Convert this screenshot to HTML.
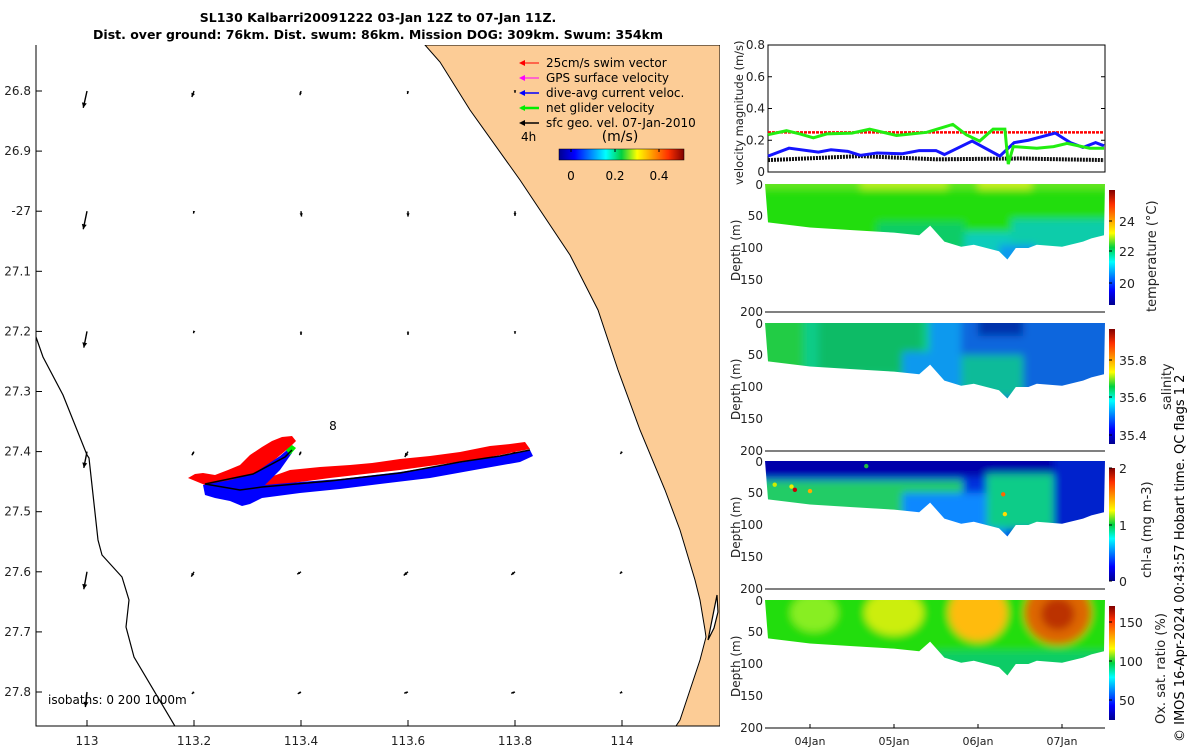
<!DOCTYPE html>
<html><head><meta charset="utf-8"><style>
html,body{margin:0;padding:0;background:#fff}
svg{display:block;font-family:"DejaVu Sans","Liberation Sans",sans-serif}
</style></head><body>
<svg id="fig" width="1200" height="750" viewBox="0 0 1200 750" xmlns="http://www.w3.org/2000/svg">
<defs>
<linearGradient id="jet" x1="0" y1="1" x2="0" y2="0">
<stop offset="0" stop-color="#00008f"/><stop offset="0.125" stop-color="#0000ff"/><stop offset="0.375" stop-color="#00ffff"/><stop offset="0.5" stop-color="#00d040"/><stop offset="0.625" stop-color="#ffff00"/><stop offset="0.875" stop-color="#ff3000"/><stop offset="1" stop-color="#800000"/>
</linearGradient>
<linearGradient id="jeth" x1="0" y1="0" x2="1" y2="0">
<stop offset="0" stop-color="#00008f"/><stop offset="0.125" stop-color="#0000ff"/><stop offset="0.375" stop-color="#00ffff"/><stop offset="0.5" stop-color="#00d040"/><stop offset="0.625" stop-color="#ffff00"/><stop offset="0.875" stop-color="#ff3000"/><stop offset="1" stop-color="#800000"/>
</linearGradient>
<filter id="blur" x="-50%" y="-50%" width="200%" height="200%"><feGaussianBlur stdDeviation="4"/></filter>
<clipPath id="mapclip"><rect x="36" y="45" width="684" height="681"/></clipPath>
</defs>
<text x="378" y="22" text-anchor="middle" font-weight="bold" font-size="12.5">SL130 Kalbarri20091222 03-Jan 12Z to 07-Jan 11Z.</text>
<text x="378" y="39" text-anchor="middle" font-weight="bold" font-size="12.5">Dist. over ground: 76km. Dist. swum: 86km. Mission DOG: 309km. Swum: 354km</text>
<g id="map"></g>
<g id="right"></g>
<text transform="translate(1184,742) rotate(-90)" font-size="13">© IMOS 16-Apr-2024 00:43:57 Hobart time. QC flags 1  2</text>
</svg>
<script>
// ---------- data ----------
const lonTicks=[113,113.2,113.4,113.6,113.8,114];
const latTicks=[26.8,26.9,27,27.1,27.2,27.3,27.4,27.5,27.6,27.7,27.8];
const latLabels=["26.8","26.9","-27","27.1","27.2","27.3","27.4","27.5","27.6","27.7","27.8"];
const arrowLats=[26.8,27.0,27.2,27.4,27.6,27.8];
const arrowU=[[-0.007,-0.004,-0.002,-0.001,0,0],[-0.007,-0.001,0.001,0,0,0],[-0.006,-0.001,0,0,0,0],[-0.006,-0.004,-0.003,-0.006,-0.006,-0.003],[-0.006,-0.005,-0.007,-0.008,-0.007,-0.004],[-0.003,-0.004,-0.006,-0.007,-0.007,-0.004]];
const arrowV=[[0.028,0.01,0.007,0.005,0.003,0],[0.03,0.004,0.009,0.009,0.008,0],[0.027,0.003,0.006,0.006,0.004,0],[0.027,0.006,0.006,0.009,0.005,0.004],[0.029,0.008,0.004,0.006,0.005,0.003],[0.025,0.003,0.003,0.002,0.002,0.002]];
const timeDays=[0,0.22,0.38,0.54,0.7,1.0,1.21,1.53,1.89,2.2,2.36,2.52,2.68,2.82,2.86,2.92,3.2,3.4,3.56,3.83,4.0];
const netVel=[0.235,0.26,0.24,0.215,0.24,0.245,0.27,0.23,0.25,0.30,0.235,0.195,0.27,0.27,0.05,0.16,0.15,0.16,0.18,0.15,0.15];
const daTime=[0,0.25,0.6,0.75,0.95,1.1,1.3,1.6,1.8,2.0,2.1,2.43,2.76,2.93,3.1,3.42,3.6,3.75,3.9,4.0];
const daVel=[0.1,0.15,0.125,0.14,0.13,0.105,0.12,0.115,0.135,0.135,0.11,0.195,0.1,0.185,0.2,0.245,0.185,0.155,0.185,0.165];
const geoTime=[0,1.1,2.0,3.0,4.0];
const geoVel=[0.075,0.1,0.08,0.085,0.075];
const swimVel=[0.25,0.25];
const bottomTime=[0,0.5,1,1.5,1.8,1.93,2.1,2.3,2.45,2.6,2.75,2.85,2.95,3.1,3.2,3.5,3.75,3.85,4];
const bottomDepth=[60,68,72,76,80,65,90,98,95,100,105,118,100,100,95,98,90,85,80];
const dayTicks=["04Jan","05Jan","06Jan","07Jan"];
const dayTickTimes=[0.5,1.5,2.5,3.5];
const depthTicks=[0,50,100,150,200];
const velTicks=[0,0.2,0.4,0.6,0.8];

const NS="http://www.w3.org/2000/svg";
function mk(parent,tag,attrs,txt){const e=document.createElementNS(NS,tag);for(const k in attrs)e.setAttribute(k,attrs[k]);if(txt!==undefined)e.textContent=txt;parent.appendChild(e);return e;}
const map=document.getElementById('map'), R=document.getElementById('right');

// ---------- map ----------
const lonX=l=>87+(l-113)*535, latY=l=>91+(l-26.8)*601;
const mg=mk(map,'g',{'clip-path':'url(#mapclip)'});
let land=mk(mg,'path',{d:"M425,45 L440,62 L470,110 L520,180 L570,255 L598,310 L618,370 L640,430 L665,490 L680,530 L695,580 L700,600 L705,630 L706,637 L700,660 L690,690 L680,720 L676,726 L720,726 L720,45 Z",fill:"#fccc96",stroke:"#000","stroke-width":1});


let est=mk(mg,'path',{d:"M708,640 L712,620 L715,605 L717,595 L718,612 L714,628 Z",fill:"#fff",stroke:"#000","stroke-width":1.2});


let iso=mk(mg,'polyline',{points:"20,300 36,337 43,357 63,395 87,455 89,458 98,540 102,555 122,577 129,600 126,627 134,657 195,760",fill:"none",stroke:"#000","stroke-width":1.2});


// arrows
arrowLats.forEach((la,i)=>lonTicks.forEach((lo,j)=>{
  const x=lonX(lo),y=latY(la),x2=x+arrowU[i][j]*535, y2=y+arrowV[i][j]*601;
  const dx=x2-x,dy=y2-y,L=Math.hypot(dx,dy);
  if(L<0.5){return;}
  const a=mk(mg,'g',{});
  
  
  mk(a,'line',{x1:x,y1:y,x2:x2,y2:y2,stroke:'#000','stroke-width':1.4});
  const ux=dx/L,uy=dy/L,h=Math.min(5,Math.max(2.5,L*0.6));
  mk(a,'polygon',{points:`${x2},${y2} ${x2-ux*h-uy*h*0.5},${y2-uy*h+ux*h*0.5} ${x2-ux*h+uy*h*0.5},${y2-uy*h-ux*h*0.5}`,fill:'#000'});
}));
// glider track
let red=mk(mg,'polygon',{points:"188,478 195,474 203,473 215,475 228,470 240,465 250,455 262,447 272,441 282,437 292,436 296,441 290,447 272,462 262,480 290,470 320,467 350,465 372,463 400,459 430,456 460,452 490,446 510,444 525,442 530,449 480,459 400,470 330,478 262,487 205,485",fill:"#ff0000"});


let blue=mk(mg,'polygon',{points:"203,485 230,480 253,474 280,456 287,450 292,453 280,470 265,485 300,482 340,479 400,472 470,461 530,450 533,456 520,462 480,469 430,478 380,484 340,489 300,493 262,498 250,504 242,506 230,501 215,498 205,495",fill:"#0000ff"});


let grn=mk(mg,'polygon',{points:"286,450 292,445 296,448 290,455",fill:"#00ee00"});


let trk=mk(mg,'polyline',{points:"292,450 285,457 253,474 205,484 240,490 262,487 330,481 400,473 460,462 500,456 530,450",fill:"none",stroke:"#000","stroke-width":1.5});


let eight=mk(map,'text',{x:333,y:430,'font-size':12,'text-anchor':'middle'},'8');


// axes
let ax=mk(map,'path',{d:"M36,45 V726 H720",fill:"none",stroke:"#000","stroke-width":1});


lonTicks.forEach(l=>{const x=lonX(l);mk(map,'line',{x1:x,y1:726,x2:x,y2:720,stroke:'#000'});
  const t=mk(map,'text',{x:x,y:745,'font-size':12,'text-anchor':'middle',fill:'#222'},String(l));
  
  });
latTicks.forEach((l,i)=>{const y=latY(l);mk(map,'line',{x1:36,y1:y,x2:42,y2:y,stroke:'#000'});
  const t=mk(map,'text',{x:31,y:y+4,'font-size':12,'text-anchor':'end',fill:'#222'},latLabels[i]);
  
  });
let isoT=mk(map,'text',{x:48,y:704,'font-size':12},'isobaths: 0   200  1000m');


// legend
const legItems=[["25cm/s swim vector","#ff0000",1],["GPS surface velocity","#ff00ff",1],["dive-avg current veloc.","#0000ff",1.5],["net glider velocity","#00ee00",2.5],["sfc geo. vel. 07-Jan-2010","#000",1.5]];
const leg=mk(map,'g',{});


legItems.forEach((it,i)=>{const y=63+i*15;const g=mk(leg,'g',{});
  
  
  mk(g,'line',{x1:521,y1:y,x2:539,y2:y,stroke:it[1],'stroke-width':it[2]});
  mk(g,'polygon',{points:`519,${y} 525,${y-3} 525,${y+3}`,fill:it[1]});
  mk(g,'text',{x:546,y:y+4,'font-size':12},it[0]);});
mk(leg,'text',{x:521,y:141,'font-size':12},'4h');
mk(leg,'text',{x:620,y:141,'font-size':14,'text-anchor':'middle'},'(m/s)');
let lcb=mk(leg,'rect',{x:559,y:149,width:125,height:11,fill:'url(#jeth)',stroke:'#000','stroke-width':0.5});


[["0",571],["0.2",615],["0.4",659]].forEach(t=>{mk(leg,'line',{x1:t[1],y1:149,x2:t[1],y2:152,stroke:'#000'});mk(leg,'text',{x:t[1],y:180,'font-size':12,'text-anchor':'middle'},t[0]);});

// ---------- right panels ----------
const X0=768,X1=1105,tX=t=>X0+t*84;
// velocity
const vY=v=>172-v*158.75;
let vbox=mk(R,'rect',{x:X0,y:45,width:X1-X0,height:127,fill:'none',stroke:'#000'});


velTicks.forEach(v=>{const y=vY(v);mk(R,'line',{x1:X0,y1:y,x2:X0+4,y2:y,stroke:'#000'});mk(R,'line',{x1:X1,y1:y,x2:X1-4,y2:y,stroke:'#000'});
  const t=mk(R,'text',{x:765,y:y+4,'font-size':12,'text-anchor':'end',fill:'#222'},String(v));
  
  });
let vt=mk(R,'text',{transform:'translate(743,185) rotate(-90)','font-size':11.5,fill:'#222'},'velocity magnitude (m/s)');


function line(ts,vs,col,w,dash,name){const p=ts.map((t,i)=>`${tX(t)},${vY(vs[i])}`).join(' ');
  const e=mk(R,'polyline',{points:p,fill:'none',stroke:col,'stroke-width':w});if(dash)e.setAttribute('stroke-dasharray',dash);
  
  }
line([0,4],swimVel,'#ff0000',2.5,'3 1','swim-speed-line');
line(geoTime,geoVel,'#111',4,'2 1','geo-velocity-line');
line(daTime,daVel,'#1515ff',3,null,'dive-avg-velocity-line');
line(timeDays,netVel,'#22ee11',3,null,'net-velocity-line');

// sections
const panels=[
 {top:184,name:'temperature',cb:[190,305],ticks:[["24",221],["22",251],["20",283]],label:'temperature (°C)',lx:1156,ly:312},
 {top:323,name:'salinity',cb:[329,444],ticks:[["35.8",360],["35.6",397],["35.4",435]],label:'salinity',lx:1171,ly:410},
 {top:461,name:'chlorophyll',cb:[468,581],ticks:[["2",468],["1",525],["0",581]],label:'chl-a (mg m-3)',lx:1151,ly:578},
 {top:600,name:'oxygen',cb:[606,720],ticks:[["150",622],["100",661],["50",700]],label:'Ox. sat. ratio (%)',lx:1165,ly:724}];
const fills={
 temperature:[['rect',0,0,4,130,'#22dd11'],['rect',0,0,4,8,'#66e622'],['rect',1.1,0,0.8,8,'#bbee22'],['rect',2.5,0,0.4,8,'#ccee22'],['rect',1.8,75,2.2,60,'#11ccbb'],['rect',2.9,55,1.0,45,'#11ccaa'],['rect',2.75,95,0.2,20,'#1199ee'],['rect',1.3,60,0.8,30,'#11cc66']],
 salinity:[['rect',0,0,4,130,'#1199ee'],['rect',0,0,1.8,100,'#11cc88'],['rect',0,0,0.3,80,'#22cc44'],['rect',0.6,0,1.0,80,'#11bb66'],['rect',1.6,45,0.8,50,'#1199ee'],['rect',2.3,0,1.7,130,'#1166dd'],['rect',2.5,0,0.3,20,'#0033aa'],['rect',2.3,50,0.5,50,'#11bb99']],
 chlorophyll:[['rect',0,0,4,130,'#0033dd'],['rect',0,30,2.2,60,'#22cc66'],['rect',0,0,4,25,'#0000aa'],['rect',1.6,50,1,60,'#1188ff'],['rect',2.6,20,0.8,70,'#11cc88'],['rect',3.4,0,0.6,120,'#0022cc']],
 oxygen:[['rect',0,0,4,130,'#22dd11'],['ell',0.55,20,0.28,30,'#88ee22'],['ell',1.5,20,0.35,35,'#ccee11'],['ell',2.5,20,0.35,45,'#ffbb11'],['ell',3.45,20,0.4,50,'#dd6600'],['ell',3.45,22,0.2,25,'#bb3300'],['rect',2.0,80,2,50,'#11cc66']]
};
panels.forEach(p=>{
 const dY=d=>p.top+d*0.64, bot=dY(200);
 const g=mk(R,'g',{});
 
 
 const cid='clip-'+p.name;
 const cp=mk(document.querySelector('defs'),'clipPath',{id:cid});
 const pts=[`${X0-3},${dY(0)}`].concat(bottomTime.map((t,i)=>`${tX(t)},${dY(bottomDepth[i])}`)).concat([`${X1},${dY(0)}`]).join(' ');
 mk(cp,'polygon',{points:pts});
 const cg=mk(g,'g',{'clip-path':`url(#${cid})`});
 const bg=mk(cg,'g',{filter:'url(#blur)'});
 fills[p.name].forEach(f=>{
   if(f[0]==='rect') mk(bg,'rect',{x:tX(f[1])-(f[1]===0?10:0),y:dY(f[2])-(f[2]===0?10:0),width:f[3]*84+20,height:f[4]*0.64+10,fill:f[5]});
   else mk(bg,'ellipse',{cx:tX(f[1]),cy:dY(f[2]),rx:f[3]*84,ry:f[4]*0.64,fill:f[5]});
 });
 mk(g,'line',{x1:X0-3,y1:bot,x2:X1,y2:bot,stroke:'#000'});
 depthTicks.forEach(d=>{const y=dY(d);
   const t=mk(g,'text',{x:763,y:y+(d===0?5:4),'font-size':12,'text-anchor':'end',fill:'#222'},String(d));
   
   });
 const yt=mk(g,'text',{transform:`translate(740,${p.top+97}) rotate(-90)`,'font-size':12,fill:'#222'},'Depth (m)');
 
 
 const cb=mk(g,'rect',{x:1109,y:p.cb[0],width:6,height:p.cb[1]-p.cb[0],fill:'url(#jet)'});
 
 
 p.ticks.forEach(t=>{mk(g,'line',{x1:1109,y1:t[1],x2:1112,y2:t[1],stroke:'#000'});mk(g,'text',{x:1119,y:t[1]+5,'font-size':12.5,fill:'#222'},t[0]);});
 const lb=mk(g,'text',{transform:`translate(${p.lx},${p.ly}) rotate(-90)`,'font-size':13,fill:'#222'},p.label);
 
 
});
// chl dots
const dots=[[0.32,45,'#cc0000'],[0.28,40,'#eeee00'],[0.5,47,'#ffaa00'],[0.08,37,'#ccee00'],[2.8,52,'#ff6600'],[2.82,83,'#ffdd00'],[1.17,8,'#22bb44']];
dots.forEach(d=>{const c=mk(R,'circle',{cx:tX(d[0]),cy:461+d[1]*0.64,r:2.2,fill:d[2]});
 
 });
// x ticks
dayTicks.forEach((d,i)=>{const x=tX(dayTickTimes[i]);mk(R,'line',{x1:x,y1:728,x2:x,y2:724,stroke:'#000'});
 const t=mk(R,'text',{x:x,y:745,'font-size':11,'text-anchor':'middle',fill:'#222'},d);
 
 });
</script>
</body></html>
